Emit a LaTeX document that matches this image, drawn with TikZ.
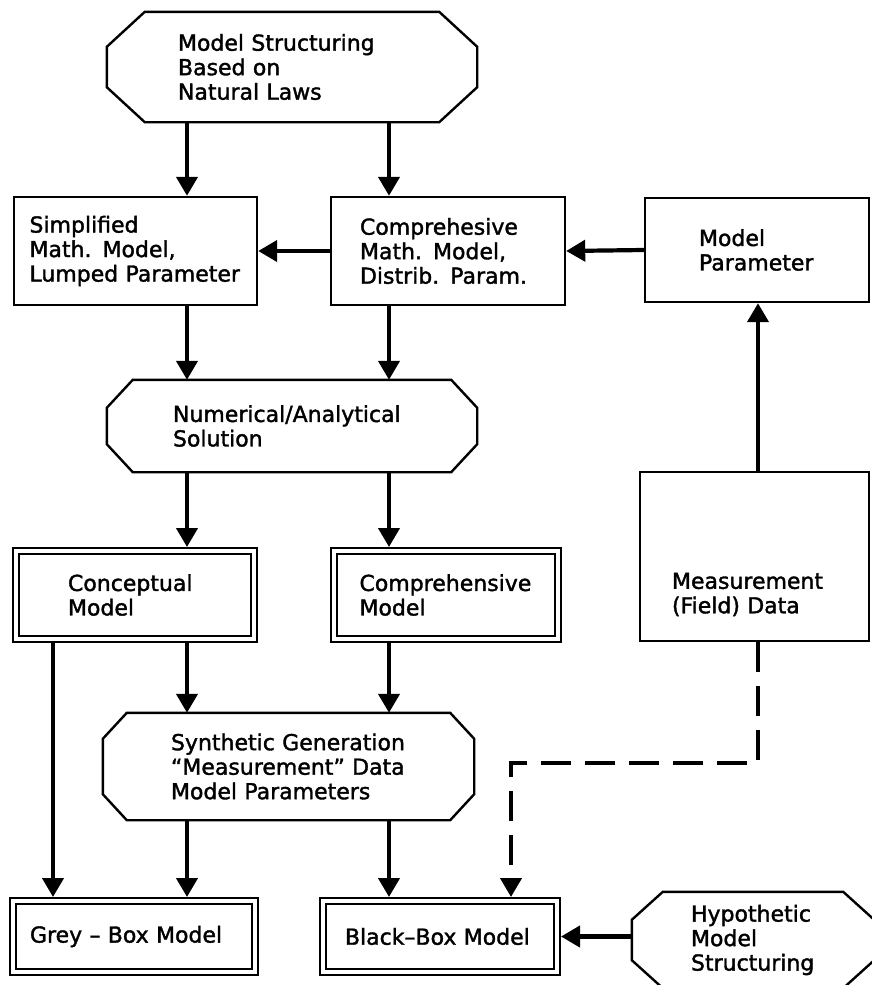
\documentclass[tikz,border=0pt]{standalone}
\usepackage{fontspec}
\setmainfont{DejaVu Sans}[FakeBold=1.6]
\usetikzlibrary{arrows.meta,calc}

% octagonal outline around a (borderless) node: #2 = horizontal cut, #3 = vertical cut
\newcommand{\octframe}[3]{%
  \draw[octline] ($(#1.north west)+(#2,0)$) -- ($(#1.north east)+(-#2,0)$)
    -- ($(#1.north east)+(0,#3)$) -- ($(#1.south east)+(0,-#3)$)
    -- ($(#1.south east)+(-#2,0)$) -- ($(#1.south west)+(#2,0)$)
    -- ($(#1.south west)+(0,-#3)$) -- ($(#1.north west)+(0,#3)$) -- cycle;}
% inner rule of a double-framed box
\newcommand{\innerframe}[1]{%
  \draw[innerline] ([shift={(7,7)}]#1.north west) rectangle ([shift={(-7,-7)}]#1.south east);}

\begin{document}
\begin{tikzpicture}[x=1pt,y=-1pt,
  base/.style={inner sep=0pt, align=left, font=\fontsize{22}{24.5}\selectfont},
  plainbox/.style={base, draw, rectangle, line width=2.4pt},
  dblbox/.style={base, draw, rectangle, line width=2pt},
  octnode/.style={base},
  octline/.style={line width=2.4pt, line join=miter},
  innerline/.style={line width=2.4pt},
  arr/.style={line width=4.2pt, -{Triangle[width=21pt,length=19pt]}},
  dasharr/.style={arr, dash pattern=on 30pt off 14pt, line join=miter}]

\useasboundingbox (0,0) rectangle (872,985);
\clip (0,0) rectangle (872,985);

% connector columns
\coordinate (cA) at (53,0);
\coordinate (cL) at (187,0);
\coordinate (cR) at (389,0);
\coordinate (cM) at (758,0);
\coordinate (bend) at (511,763);

% nodes
\node[octnode, minimum width=370pt, minimum height=110pt, text width=228pt] (law) at (292,67)
  {Model Structuring\\Based on\\Natural Laws};
\node[plainbox, minimum width=243pt, minimum height=108pt, text width=212pt] (simp) at (135.5,251)
  {Simplified\\Math. Model,\\Lumped Parameter};
\node[plainbox, minimum width=234pt, minimum height=108pt, text width=176pt] (comp) at (448,251)
  {Comprehesive\\Math. Model,\\Distrib. Param.};
\node[plainbox, minimum width=224pt, minimum height=104pt, text width=116pt] (par) at (757,250)
  {Model\\Parameter};
\node[octnode, minimum width=370pt, minimum height=92pt, text width=238pt] (num) at (292,426)
  {Numerical/Analytical\\Solution};
\node[dblbox, minimum width=244pt, minimum height=94pt, text width=134pt] (conc) at (135,595)
  {Conceptual\\Model};
\node[dblbox, minimum width=230pt, minimum height=94pt, text width=173pt] (compm) at (446,595)
  {Comprehensive\\Model};
\node[plainbox, minimum width=229pt, minimum height=169pt, text width=165pt] (meas) at (754.5,556.5)
  {\rule{0pt}{92pt}Measurement\\(Field) Data};
\node[octnode, minimum width=371pt, minimum height=107pt, text width=235pt] (syn) at (288.5,766.5)
  {Synthetic Generation\\“Measurement” Data\\Model Parameters};
\node[dblbox, minimum width=248pt, minimum height=77pt, text width=208pt] (grey) at (134,936.5)
  {Grey – Box Model};
\node[dblbox, minimum width=240pt, minimum height=77pt, text width=190pt] (black) at (440,936.5)
  {Black–Box Model};
\node[octnode, minimum width=242pt, minimum height=96pt, text width=124pt] (hyp) at (753,940)
  {Hypothetic\\Model\\Structuring};

% octagon outlines and inner frames
\octframe{law}{38}{35}
\octframe{num}{26}{28}
\octframe{syn}{24}{26}
\octframe{hyp}{31}{28}
\innerframe{conc}
\innerframe{compm}
\innerframe{grey}
\innerframe{black}

% connectors
\draw[arr] (law.south -| cL) -- (simp.north -| cL);
\draw[arr] (law.south -| cR) -- (comp.north -| cR);
\draw[arr] (comp.west) -- (simp.east);
\draw[arr] (par.west) -- (comp.east);
\draw[arr] (simp.south -| cL) -- (num.north -| cL);
\draw[arr] (comp.south -| cR) -- (num.north -| cR);
\draw[arr] (meas.north -| cM) -- (par.south -| cM);
\draw[arr] (num.south -| cL) -- (conc.north -| cL);
\draw[arr] (num.south -| cR) -- (compm.north -| cR);
\draw[arr] (conc.south -| cL) -- (syn.north -| cL);
\draw[arr] (compm.south -| cR) -- (syn.north -| cR);
\draw[arr] (conc.south -| cA) -- (grey.north -| cA);
\draw[arr] (syn.south -| cL) -- (grey.north -| cL);
\draw[arr] (syn.south -| cR) -- (black.north -| cR);
\draw[arr] (hyp.west |- black.east) -- (black.east);
\draw[dasharr] (meas.south -| cM) |- (bend) -- (black.north -| bend);
\end{tikzpicture}
\end{document}
